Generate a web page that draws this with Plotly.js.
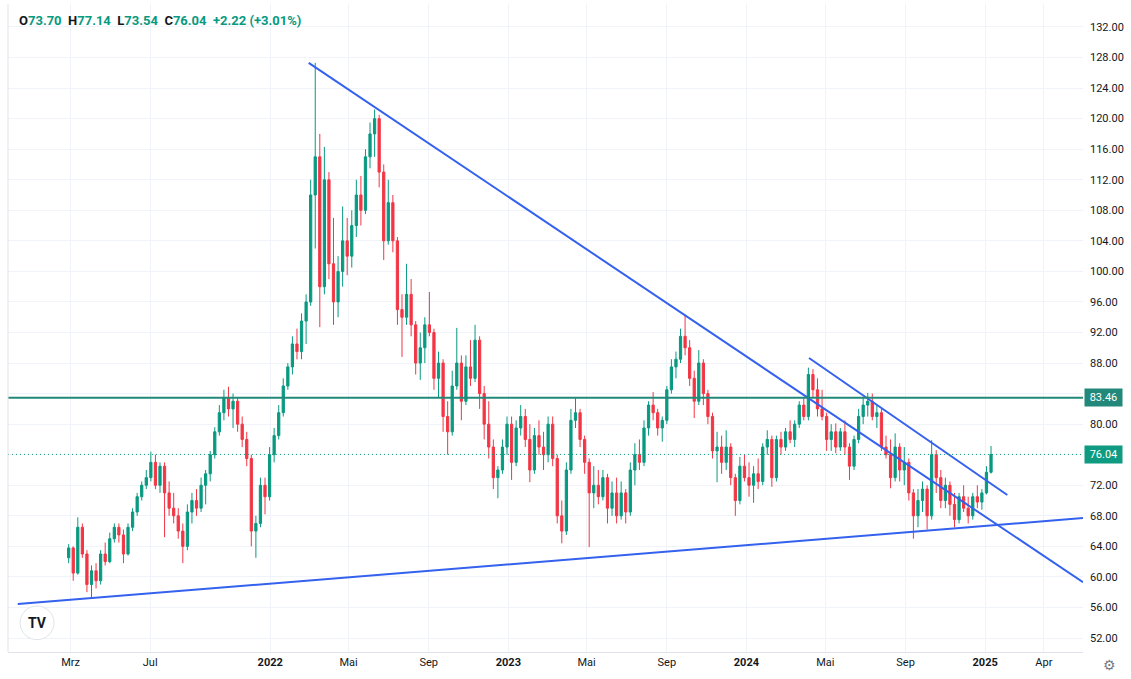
<!DOCTYPE html>
<html>
<head>
<meta charset="utf-8">
<script src="https://cdn.plot.ly/plotly-3.0.1.min.js"></script>
<style>
  html, body { margin: 0; padding: 0; background: #ffffff; }
  #chart { width: 1131px; height: 679px; }
</style>
</head>
<body>
<div id="chart"></div>
<script>
// weekly candles, first week ending 2021-02-26
const firstWeek = '2021-02-26';

const opens = [
  62.5, 63.8, 60.5, 66.5, 63, 59, 60.8, 59.5, 63, 62,
  65, 66.5, 65.5, 63, 66.5, 68.5, 70.5, 72, 73, 75,
  72, 74.5, 71, 69, 68, 66, 64, 68.5, 70, 69,
  72, 73.5, 76, 79, 81.5, 83.5, 82, 83, 80, 78,
  75.5, 66, 67, 72, 70.5, 76, 78.5, 81.5, 85, 87.5,
  90.5, 89.5, 93.5, 96, 110, 115, 98, 112, 101, 96,
  100, 104, 102, 106, 110, 108, 115, 118, 120, 113,
  104, 109, 104, 95, 94, 97, 93, 88, 90, 93,
  92, 86, 88, 81, 79, 85, 88, 83, 87.5, 86,
  91, 84, 80, 77, 73, 74, 77, 80, 75, 79.5,
  81, 78, 74, 78.5, 77, 76, 80, 75.5, 68, 66,
  74, 80.5, 81.5, 78, 75, 71, 72, 70.5, 73, 69,
  71, 68, 71, 68.5, 74, 76, 75, 79.5, 82.5, 81.5,
  79.5, 80.5, 84.5, 87.5, 88.5, 91.5, 90, 86, 83, 88,
  84, 81, 76.5, 77, 75, 77, 73, 70, 74.5, 73,
  72, 73.5, 72.5, 77, 78, 73, 78, 77, 79, 78,
  80, 82.5, 81, 86.5, 84.5, 82, 81, 78, 79, 77,
  79, 77, 74.5, 78, 81, 82.5, 83, 81, 81.5, 77,
  76, 73, 77, 74, 75, 71, 68, 70, 71.5, 68,
  76, 73, 70, 72, 69.5, 67.5, 70.5, 69, 68, 70.5,
  69.8, 71, 73.70
];
const highs = [
  64.3, 64, 67.8, 67, 63.5, 61.5, 61.8, 63.5, 64.5, 65.8,
  67, 67, 66.2, 67, 69, 71, 72.5, 74, 76.4, 76,
  75, 75, 72.5, 71, 69, 67, 69.5, 71, 71.5, 73,
  74, 76.5, 79.6, 82.5, 84.5, 84.9, 84, 83.5, 81, 79,
  76, 68, 73, 73, 77, 79.5, 82.5, 86, 88, 91.5,
  92.5, 94.5, 97, 112, 127.3, 118, 116.3, 113, 107, 102,
  108.5, 107, 108, 112, 112.5, 116, 119.5, 121.2, 120.5, 114,
  112, 110, 104.5, 97, 101, 99, 93.5, 92, 94, 97.3,
  92.5, 89.5, 88.5, 83, 87, 92.6, 89, 89, 91, 93,
  91.5, 85, 83, 78, 74.5, 78, 81, 81, 80.5, 82.5,
  82, 80, 79.5, 80.5, 79, 81, 81, 76, 70, 75,
  82, 83.4, 82, 78.5, 75.5, 74.5, 74, 74, 73.5, 72.5,
  73, 72.5, 71.5, 75, 77.5, 78, 80.5, 83, 84.2, 82,
  81, 85, 88.5, 89.5, 92.5, 94.3, 91, 87, 89.7, 88.5,
  84.5, 81.5, 79, 78.5, 79.2, 77.5, 73.5, 75.7, 76, 75,
  74.5, 75.5, 77.5, 79.2, 78.5, 78.5, 79, 79.5, 80.5, 80.5,
  83, 83.5, 87.4, 87.2, 86, 84.5, 81.5, 80, 80.1, 79.5,
  80.5, 77.5, 78.5, 82, 83.5, 84.1, 84, 82.5, 82, 78.5,
  78, 78.8, 77.5, 77, 75.5, 71.5, 71.5, 72.5, 72, 77.9,
  76.6, 74, 73, 72.5, 71, 71, 72, 70.5, 71, 72,
  71.5, 74.5, 77.14
];
const lows = [
  61.8, 59.5, 60.3, 62.5, 58, 57.2, 58.5, 59, 61.5, 61.8,
  64.5, 64.5, 61.8, 62.8, 66, 68, 70, 71.5, 72.5, 71.5,
  71, 65.2, 68, 67, 65, 61.8, 63.5, 67, 68, 68.5,
  69.5, 72.5, 75.5, 78.5, 80.5, 81, 79.5, 79, 77, 74.5,
  64, 62.5, 66.5, 68.2, 70, 75, 78, 81, 84.5, 86.5,
  88.5, 88.5, 90.5, 95.5, 103, 92.7, 97, 99, 93, 94,
  98, 99.5, 100.5, 104.5, 106, 107.5, 113.5, 115, 111, 101.5,
  103.5, 102.5, 93, 88.8, 93, 91.5, 86.5, 85.8, 88, 91.5,
  84.5, 83.5, 79, 76, 78.5, 84.5, 80.5, 82.5, 85, 85.5,
  82, 78, 75.5, 71.5, 70.3, 73.5, 76, 72.7, 74.5, 78.5,
  77, 72.4, 73.5, 76, 74, 75, 74.5, 67, 64.4, 65.5,
  73.5, 79.5, 77, 73.5, 63.9, 69, 69.5, 70, 67, 68,
  67, 67.5, 67, 68, 72, 74, 74.5, 78.5, 80.5, 78.5,
  77.7, 80, 84, 86, 88, 89, 85, 80.8, 82.5, 82.5,
  80, 75.5, 72.4, 73.5, 74, 72, 68, 69.5, 72.5, 70.5,
  69.7, 71.5, 72, 76, 71.8, 72.5, 76, 76.5, 77.5, 77,
  79.5, 80.5, 80.5, 83.5, 81, 80.5, 76.5, 76.5, 76.2, 76.5,
  76, 72.7, 74, 77.5, 80, 81, 80.5, 79.5, 76.5, 75.5,
  71.6, 72.5, 72.5, 72, 70, 65, 66.5, 68.5, 66.2, 67.5,
  71, 69, 69, 68, 66.5, 67, 68.5, 67, 67.5, 69,
  68.8, 70.8, 73.54
];
const closes = [
  63.8, 60.5, 66.5, 63, 59, 60.8, 59.5, 63, 62, 65,
  66.5, 65.5, 63, 66.5, 68.5, 70.5, 72, 73, 75, 72,
  74.5, 71, 69, 68, 66, 64, 68.5, 70, 69, 72,
  73.5, 76, 79, 81.5, 83.5, 82, 83, 80, 78, 75.5,
  66, 67, 72, 70.5, 76, 78.5, 81.5, 85, 87.5, 90.5,
  89.5, 93.5, 96, 110, 115, 98, 112, 101, 96, 100,
  104, 102, 106, 110, 108, 115, 118, 120, 113, 104,
  109, 104, 95, 94, 97, 93, 88, 90, 93, 92,
  86, 88, 81, 79, 85, 88, 83, 87.5, 86, 91,
  84, 80, 77, 73, 74, 77, 80, 75, 79.5, 81,
  78, 74, 78.5, 77, 76, 80, 75.5, 68, 66, 74,
  80.5, 81.5, 78, 75, 71, 72, 70.5, 73, 69, 71,
  68, 71, 68.5, 74, 76, 75, 79.5, 82.5, 81.5, 79.5,
  80.5, 84.5, 87.5, 88.5, 91.5, 90, 86, 83, 88, 84,
  81, 76.5, 77, 75, 77, 73, 70, 74.5, 73, 72,
  73.5, 72.5, 77, 78, 73, 78, 77, 79, 78, 80,
  82.5, 81, 86.5, 84.5, 82, 81, 78, 79, 77, 79,
  77, 74.5, 78, 81, 82.5, 83, 81, 81.5, 77, 76,
  73, 77, 74, 75, 71, 68, 70, 71.5, 68, 76,
  73, 70, 72, 69.5, 67.5, 70.5, 69, 68, 70.5, 69.8,
  71, 73.7, 76.04
];

// drawn trend lines (start / end)
const trendNames = ['upper', 'lower', 'short'];
const trendDates = [
  ['2022-03-01', '2025-05-31'],
  ['2020-12-10', '2025-05-31'],
  ['2024-04-06', '2025-02-04']
];
const trendPrices = [
  [127.3, 59.3],
  [56.45, 67.7],
  [88.66, 70.72]
];

const levelPrice = 83.46;
const lastPrice = 76.04;
const legendOHLC = ['73.70', '77.14', '73.54', '76.04', '+2.22 (+3.01%)'];

const tickDates = ['2021-03-01', '2021-07-01', '2022-01-01', '2022-05-01', '2022-09-01',
  '2023-01-01', '2023-05-01', '2023-09-01', '2024-01-01', '2024-05-01', '2024-09-01',
  '2025-01-01', '2025-04-01'];
const tickLabels = ['Mrz', 'Jul', '<b>2022</b>', 'Mai', 'Sep', '<b>2023</b>', 'Mai', 'Sep',
  '<b>2024</b>', 'Mai', 'Sep', '<b>2025</b>', 'Apr'];
const priceTicks = [52, 56, 60, 64, 68, 72, 76, 80, 84, 88, 92, 96, 100, 104, 108, 112, 116, 120, 124, 128, 132];
// labels covered by the price boxes
const hiddenTicks = [76, 84];

const UP = '#089981';
const DOWN = '#F23645';
const BLUE = '#3461ee';
const LEVEL = '#22897a';
const LAST = '#0e9b82';

function weekDates(start, n) {
  const out = [];
  const d0 = new Date(start + 'T00:00:00Z');
  for (let i = 0; i < n; i++) {
    const d = new Date(d0.getTime() + i * 7 * 86400000);
    out.push(d.toISOString().slice(0, 10));
  }
  return out;
}

const dates = weekDates(firstWeek, closes.length);

const traces = [];
trendNames.forEach((name, i) => {
  traces.push({
    type: 'scatter',
    mode: 'lines',
    name: name,
    x: trendDates[i],
    y: trendPrices[i],
    line: { color: BLUE, width: 2 },
    hoverinfo: 'skip',
  });
});
traces.push({
  type: 'candlestick',
  x: dates,
  open: opens,
  high: highs,
  low: lows,
  close: closes,
  whiskerwidth: 0,
  increasing: { line: { color: UP, width: 1 }, fillcolor: UP },
  decreasing: { line: { color: DOWN, width: 1 }, fillcolor: DOWN },
});

let legendText = '';
['O', 'H', 'L', 'C'].forEach((k, i) => {
  legendText += `<b>${k}<span style="color:${UP}">${legendOHLC[i]}</span></b>  `;
});
legendText += `<b><span style="color:${UP}">${legendOHLC[4]}</span></b>`;

const layout = {
  width: 1131,
  height: 679,
  margin: { l: 8, r: 48, t: 4, b: 27 },
  paper_bgcolor: '#ffffff',
  plot_bgcolor: '#ffffff',
  showlegend: false,
  font: { family: 'Roboto, "Noto Sans", sans-serif', size: 11, color: '#131722' },
  xaxis: {
    type: 'date',
    range: ['2020-11-25', '2025-05-31'],
    rangeslider: { visible: false },
    tickvals: tickDates,
    ticktext: tickLabels,
    showgrid: true,
    gridcolor: '#f0f3fa',
    zeroline: false,
    showline: true,
    linecolor: '#e0e3eb',
    ticks: '',
    tickfont: { size: 11, color: '#131722' },
  },
  yaxis: {
    side: 'right',
    range: [50.17, 135.01],
    tickvals: priceTicks,
    ticktext: priceTicks.map((v) => (hiddenTicks.includes(v) ? '' : v.toFixed(2))),
    showgrid: true,
    gridcolor: '#f0f3fa',
    zeroline: false,
    showline: false,
    ticks: '',
    ticklabelstandoff: 6,
    tickfont: { size: 11, color: '#131722' },
  },
  shapes: [
    {
      type: 'line', xref: 'paper', x0: 0, x1: 1, yref: 'y', y0: levelPrice, y1: levelPrice,
      line: { color: LEVEL, width: 2 },
    },
    {
      type: 'line', xref: 'paper', x0: 0, x1: 1, yref: 'y', y0: lastPrice, y1: lastPrice,
      line: { color: LAST, width: 1, dash: '1px,3px' },
    },
    {
      type: 'line', xref: 'paper', x0: 0, x1: 0, yref: 'paper', y0: 0, y1: 1,
      line: { color: '#e0e3eb', width: 1 },
    },
    {
      type: 'circle', xref: 'paper', yref: 'paper',
      x0: 0.0112, x1: 0.0428, y0: 0.019, y1: 0.071,
      fillcolor: '#ffffff', line: { color: '#e0e3eb', width: 1 },
    },
  ],
  annotations: [
    {
      xref: 'paper', yref: 'paper', x: 0.0084, y: 0.975, xanchor: 'left', yanchor: 'middle',
      text: legendText, showarrow: false, font: { size: 13, color: '#131722' },
    },
    {
      xref: 'paper', yref: 'y', x: 1, y: levelPrice, xanchor: 'left', xshift: 1,
      text: levelPrice.toFixed(2), showarrow: false, bgcolor: LEVEL,
      font: { size: 11, color: '#ffffff' }, width: 35, height: 15,
    },
    {
      xref: 'paper', yref: 'y', x: 1, y: lastPrice, xanchor: 'left', xshift: 1,
      text: lastPrice.toFixed(2), showarrow: false, bgcolor: LAST,
      font: { size: 11, color: '#ffffff' }, width: 35, height: 15,
    },
    {
      xref: 'paper', yref: 'paper', x: 0.027, y: 0.045, xanchor: 'center', yanchor: 'middle',
      text: '<b>TV</b>', showarrow: false, font: { size: 14, color: '#131722' },
    },
    {
      xref: 'paper', yref: 'paper', x: 1.025, y: -0.02, xanchor: 'center', yanchor: 'middle',
      text: '⚙', showarrow: false, font: { size: 14, color: '#787b86' },
    },
  ],
};

Plotly.newPlot('chart', traces, layout, { displayModeBar: false, staticPlot: true });
</script>
</body>
</html>
